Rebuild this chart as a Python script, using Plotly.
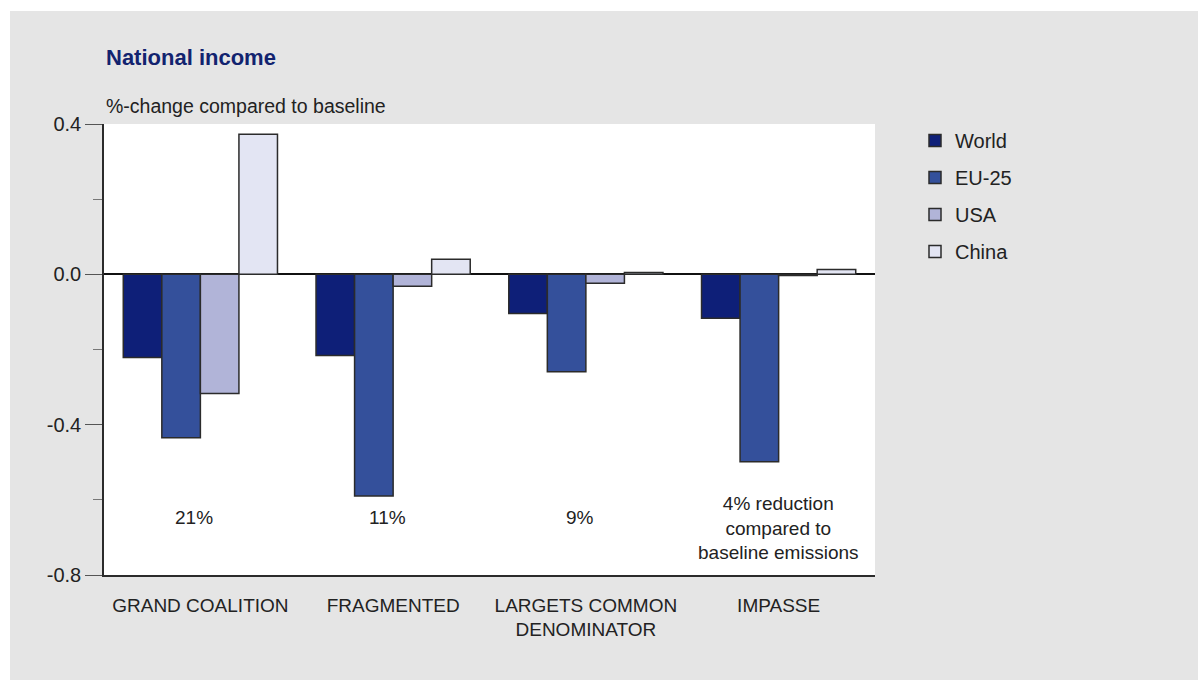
import plotly.graph_objects as go

categories = ["GRAND COALITION", "FRAGMENTED", "LARGETS COMMON<br>DENOMINATOR", "IMPASSE"]
series_names = ["World", "EU-25", "USA", "China"]
world = [-0.221, -0.216, -0.104, -0.117]
eu25 = [-0.435, -0.590, -0.259, -0.499]
usa = [-0.317, -0.032, -0.024, -0.003]
china = [0.373, 0.040, 0.005, 0.013]
reduction_labels = ["21%", "11%", "9%", "4% reduction<br>compared to<br>baseline emissions"]
reduction_y = [-0.648, -0.648, -0.648, -0.675]
y_tickvals = [-0.8, -0.4, 0.0, 0.4]
y_ticktext = ["-0.8", "-0.4", "0.0", "0.4"]

colors = ["#0e1f78", "#34509b", "#b1b4d8", "#e3e5f3"]
values = [world, eu25, usa, china]

W, H = 1198, 680
ml, mr, mt, mb = 104, 323, 124, 105
pw, ph = W - ml - mr, H - mt - mb

def px(x):
    return (x - ml) / pw

def py(y):
    return (H - mb - y) / ph

FONT = "Liberation Sans Narrow, Arial Narrow, Liberation Sans, Arial, sans-serif"

fig = go.Figure()
for name, vals, col in zip(series_names, values, colors):
    fig.add_trace(go.Bar(
        x=categories, y=vals, name=name,
        marker=dict(color=col, line=dict(color="#2b2b2b", width=1.5)),
        legendgroup=name,
    ))

for cat, lab, yv in zip(categories, reduction_labels, reduction_y):
    fig.add_annotation(x=cat, y=yv, xref="x", yref="y", text=lab, showarrow=False,
                       xshift=-6 if "<br>" not in lab else 0,
                       font=dict(size=19, color="#222222", family=FONT), align="center")

fig.add_annotation(x=0, y=py(57), xref="paper", yref="paper", xanchor="left", yanchor="middle",
                   text="<b>National income</b>", showarrow=False,
                   font=dict(size=22, color="#12236f", family=FONT))
fig.add_annotation(x=0, y=py(106), xref="paper", yref="paper", xanchor="left", yanchor="middle",
                   text="%-change compared to baseline", showarrow=False,
                   font=dict(size=19.5, color="#222222", family=FONT))

# white outer strips
fig.add_shape(type="rect", xref="paper", yref="paper", x0=px(-5), x1=px(W + 5), y0=py(11), y1=py(-5),
              fillcolor="white", line=dict(width=0), layer="above")
fig.add_shape(type="rect", xref="paper", yref="paper", x0=px(-5), x1=px(10), y0=py(H + 5), y1=py(-5),
              fillcolor="white", line=dict(width=0), layer="above")

fig.update_layout(
    width=W, height=H,
    margin=dict(l=ml, r=mr, t=mt, b=mb, pad=0),
    paper_bgcolor="#e5e5e5", plot_bgcolor="white",
    barmode="group", bargap=0.2, bargroupgap=0,
    font=dict(family=FONT, size=19, color="#222222"),
    legend=dict(x=px(915), y=py(121), xanchor="left", yanchor="top",
                font=dict(size=20, color="#222222", family=FONT),
                bgcolor="rgba(0,0,0,0)", tracegroupgap=8, itemwidth=30),
    showlegend=True,
)
fig.update_xaxes(showline=True, linecolor="#2b2b2b", linewidth=1.5, ticks="", showgrid=False,
                 ticklabelstandoff=12,
                 tickfont=dict(size=19, family=FONT, color="#222222"), fixedrange=True)
fig.update_yaxes(range=[-0.8, 0.4], tickmode="array", tickvals=y_tickvals, ticktext=y_ticktext,
                 showline=True, linecolor="#2b2b2b", linewidth=1.5,
                 ticks="outside", ticklen=17, tickcolor="#555555", tickwidth=1,
                 minor=dict(dtick=0.2, tick0=-0.8, ticks="outside", ticklen=9, tickcolor="#777777", tickwidth=1, showgrid=False),
                 showgrid=False, zeroline=True, zerolinecolor="#111111", zerolinewidth=1.5,
                 tickfont=dict(size=20, family=FONT, color="#222222"), fixedrange=True)

fig.write_html("out.html")
